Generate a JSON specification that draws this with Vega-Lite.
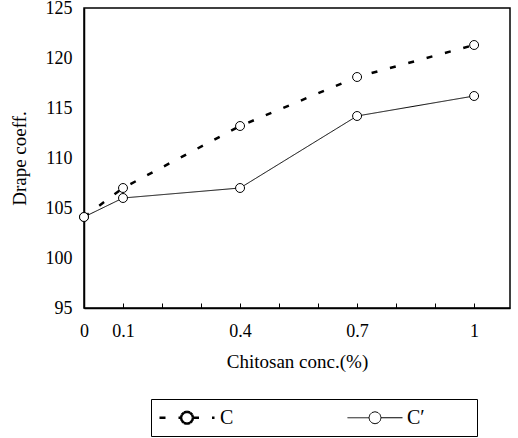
{
  "$schema": "https://vega.github.io/schema/vega-lite/v6.json",
  "width": 426,
  "height": 300,
  "autosize": "none",
  "padding": {"left": 84, "top": 8, "right": 8, "bottom": 130},
  "background": "white",
  "data": {
    "values": [
      {"conc": 0, "drape": 104.1, "series": "C"},
      {"conc": 0.1, "drape": 107.0, "series": "C"},
      {"conc": 0.4, "drape": 113.2, "series": "C"},
      {"conc": 0.7, "drape": 118.1, "series": "C"},
      {"conc": 1.0, "drape": 121.3, "series": "C"},
      {"conc": 0, "drape": 104.1, "series": "C′"},
      {"conc": 0.1, "drape": 106.0, "series": "C′"},
      {"conc": 0.4, "drape": 107.0, "series": "C′"},
      {"conc": 0.7, "drape": 114.2, "series": "C′"},
      {"conc": 1.0, "drape": 116.2, "series": "C′"}
    ]
  },
  "encoding": {
    "x": {
      "field": "conc", "type": "quantitative",
      "scale": {"domain": [0, 1.092], "nice": false, "zero": false},
      "axis": {
        "title": "Chitosan conc.(%)",
        "values": [0, 0.1, 0.2, 0.3, 0.4, 0.5, 0.6, 0.7, 0.8, 0.9, 1],
        "format": ".1~f",
        "labelExpr": "(datum.value == 0 || datum.value == 0.1 || datum.value == 0.4 || datum.value == 0.7 || datum.value == 1) ? datum.label : ''",
        "labelFlush": false,
        "tickSize": -5,
        "labelPadding": 19,
        "titlePadding": 12,
        "grid": false
      }
    },
    "y": {
      "field": "drape", "type": "quantitative",
      "scale": {"domain": [95, 125], "nice": false, "zero": false},
      "axis": {
        "title": "Drape coeff.",
        "values": [95, 100, 105, 110, 115, 120, 125],
        "ticks": false,
        "labelPadding": 12,
        "titlePadding": 16,
        "grid": false
      }
    }
  },
  "layer": [
    {
      "mark": {"type": "line", "color": "black"},
      "encoding": {
        "strokeDash": {
          "field": "series", "type": "nominal",
          "scale": {"domain": ["C", "C′"], "range": [[6, 13], [1, 0]]},
          "legend": {"title": null, "labelExpr": "datum.label == 'C′' ? datum.label + '\u2800\u2800\u2800' : datum.label"}
        },
        "strokeWidth": {
          "field": "series", "type": "nominal",
          "scale": {"domain": ["C", "C′"], "range": [2.5, 1]},
          "legend": {"title": null, "labelExpr": "datum.label == 'C′' ? datum.label + '\u2800\u2800\u2800' : datum.label"}
        }
      }
    },
    {
      "mark": {"type": "point", "shape": "circle", "filled": true, "fill": "white", "stroke": "black", "strokeWidth": 1, "size": 80, "opacity": 1}
    }
  ],
  "config": {
    "font": "Liberation Serif",
    "view": {"stroke": "black", "strokeWidth": 1.5},
    "axis": {
      "domainColor": "black",
      "domainWidth": 1.5,
      "tickColor": "black",
      "tickWidth": 1,
      "labelColor": "black",
      "labelFont": "Liberation Serif",
      "labelFontSize": 18,
      "titleFont": "Liberation Serif",
      "titleFontSize": 19,
      "titleFontWeight": "normal",
      "titleColor": "black"
    },
    "legend": {
      "orient": "none",
      "legendX": 67,
      "legendY": 391,
      "direction": "horizontal",
      "columnPadding": 111,
      "strokeColor": "black",
      "fillColor": "white",
      "padding": 7,
      "labelFont": "Liberation Serif",
      "labelFontSize": 20,
      "labelColor": "black",
      "symbolType": "M-1,0H1.15M2.35,0H4.5M2.35,0L2.27,0.3M2.27,0.3L2.05,0.52M2.05,0.52L1.75,0.6M1.75,0.6L1.45,0.52M1.45,0.52L1.23,0.3M1.23,0.3L1.15,0M1.15,0L1.23,-0.3M1.23,-0.3L1.45,-0.52M1.45,-0.52L1.75,-0.6M1.75,-0.6L2.05,-0.52M2.05,-0.52L2.27,-0.3M2.27,-0.3L2.35,0",
      "symbolSize": 400,
      "symbolStrokeColor": "black",
      "symbolFillColor": "white",
      "labelOffset": 39
    }
  }
}
